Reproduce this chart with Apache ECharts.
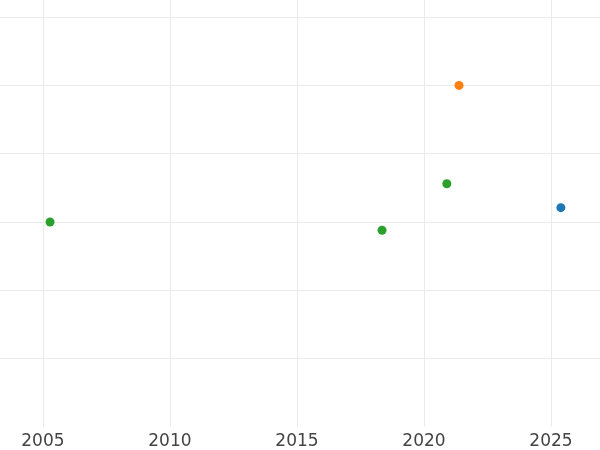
<!DOCTYPE html>
<html>
<head>
<meta charset="utf-8">
<script src="https://cdn.jsdelivr.net/npm/echarts@6/dist/echarts.min.js"></script>
<style>html,body{margin:0;padding:0;background:#fff}#c{width:600px;height:450px}</style>
</head>
<body>
<div id="c"></div>
<script>
// Data (x = year, y = unlabelled value)
const blueX = [2025.39];
const blueY = [3.21];
const orangeX = [2021.38];
const orangeY = [5.0];
const greenX = [2005.28, 2018.35, 2020.9];
const greenY = [3.0, 2.88, 3.56];
const xMin = 2003.31, xMax = 2026.93;
const yMin = 0, yMax = 6.25;

const pairs = (xs, ys) => xs.map((x, i) => [x, ys[i]]);

const chart = echarts.init(document.getElementById('c'), null, {renderer: 'canvas'});
chart.setOption({
  animation: false,
  backgroundColor: '#ffffff',
  grid: {left: 0, right: 0, top: 0, bottom: 23, containLabel: false},
  xAxis: {
    type: 'value', min: xMin, max: xMax,
    axisLine: {show: false}, axisTick: {show: false},
    axisLabel: {
      color: '#444444', fontSize: 17, fontFamily: 'DejaVu Sans', margin: 6,
      showMinLabel: false, showMaxLabel: false,
      formatter: v => (Math.abs(v - Math.round(v)) < 1e-6 && Math.round(v) % 5 === 0) ? String(Math.round(v)) : ''
    },
    splitLine: {show: true, showMinLine: false, showMaxLine: false, lineStyle: {color: '#ebebeb', width: 1}}
  },
  yAxis: {
    type: 'value', min: yMin, max: yMax, interval: 1,
    axisLine: {show: false}, axisTick: {show: false}, axisLabel: {show: false},
    splitLine: {show: true, showMinLine: false, showMaxLine: false, lineStyle: {color: '#ebebeb', width: 1}}
  },
  series: [
    {type: 'scatter', data: pairs(blueX, blueY), symbolSize: 9, itemStyle: {color: '#1f77b4', opacity: 1}},
    {type: 'scatter', data: pairs(orangeX, orangeY), symbolSize: 9, itemStyle: {color: '#ff7f0e', opacity: 1}},
    {type: 'scatter', data: pairs(greenX, greenY), symbolSize: 9, itemStyle: {color: '#2ca02c', opacity: 1}}
  ]
});
</script>
</body>
</html>
